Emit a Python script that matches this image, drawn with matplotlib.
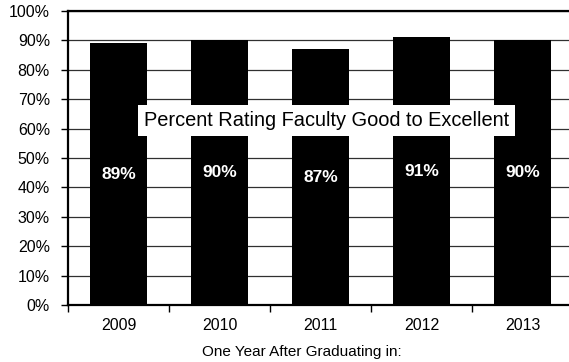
import numpy as np
import matplotlib.pyplot as plt

years = ['2009', '2010', '2011', '2012', '2013']
ratings = [89, 90, 87, 91, 90]
yticks = list(range(0, 101, 10))
box_text = 'Percent Rating Faculty Good to Excellent'
xlabel = 'One Year After Graduating in:'

plt.rcParams['font.family'] = ['Liberation Sans', 'DejaVu Sans']

W, H = 569, 362
fig = plt.figure(figsize=(W / 100, H / 100), dpi=100)
ax = fig.add_axes([68 / W, (H - 305) / H, (573 - 68) / W, (305 - 11) / H])

x = np.arange(len(years))
ax.bar(x, ratings, width=0.57, color='black', zorder=3)
for xi, v in zip(x, ratings):
    ax.text(xi, v / 2, '%d%%' % v, color='white', fontsize=12.5, fontweight='bold',
            ha='center', va='center', zorder=4)

ax.set_xlim(-0.5, len(years) - 0.5)
ax.set_ylim(0, 100)
ax.set_yticks(yticks)
ax.set_yticklabels(['%d%%' % t for t in yticks], fontsize=11.5)
ax.set_xticks(x)
ax.set_xticklabels(years, fontsize=11.5)
ax.set_xticks(np.arange(len(years) + 1) - 0.5, minor=True)
ax.tick_params(axis='x', which='major', length=0, pad=9)
ax.tick_params(axis='x', which='minor', length=5, width=1, direction='out')
ax.tick_params(axis='y', length=5, width=1, direction='out', pad=8)
ax.yaxis.grid(True, color='#303030', linewidth=0.9, zorder=0)

ax.spines['right'].set_visible(False)
ax.spines['top'].set_linewidth(1.6)
ax.spines['left'].set_linewidth(1.6)
ax.spines['bottom'].set_linewidth(1.6)

fig.text(302 / W, 1 - 352 / H, xlabel, fontsize=11, ha='center', va='center')

ax.text(2.06, 62.9, box_text, fontsize=14.4, ha='center', va='center', zorder=5,
        bbox=dict(facecolor='white', edgecolor='none', boxstyle='square,pad=0.3'))

fig.savefig('out.png', dpi=100)
